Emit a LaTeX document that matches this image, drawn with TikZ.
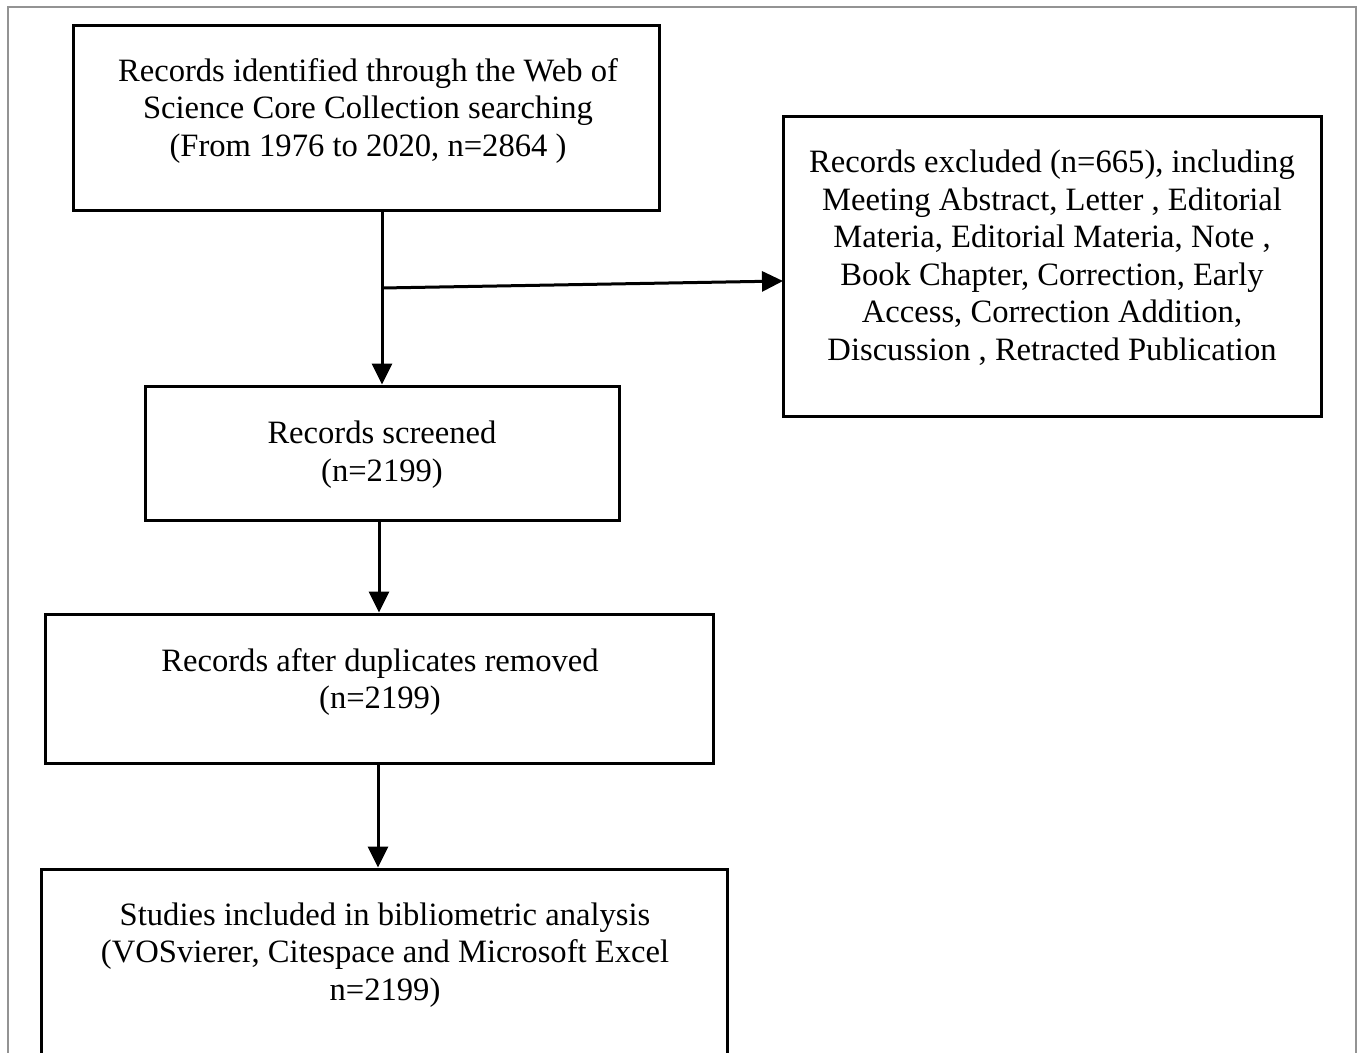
\documentclass[tikz,border=0pt]{standalone}
\usepackage{fontspec}
\setmainfont{Liberation Serif}
\usetikzlibrary{arrows.meta}
\begin{document}
\begin{tikzpicture}[x=1pt,y=-1pt,
  box/.style={draw=black,line width=3pt,rectangle,inner sep=0pt},
  txt/.style={align=center,inner sep=0pt,font=\fontsize{32.6}{37.5}\selectfont},
  arr/.style={line width=3pt,-{Triangle[length=21pt,width=20pt]}}]
\clip (0,0) rectangle (1357,1052);
\fill[white] (0,0) rectangle (1357,1052);
\draw[gray!85,line width=2pt] (8,1060) -- (8,7) -- (1356,7) -- (1356,1060);
% boxes
\node[box,minimum width=586pt,minimum height=185pt] (b1) at (366,117.5) {};
\node[box,minimum width=538pt,minimum height=300pt] (b2) at (1052,266) {};
\node[box,minimum width=474pt,minimum height=134pt] (b3) at (382,453) {};
\node[box,minimum width=668pt,minimum height=149pt] (b4) at (379,688.5) {};
\node[box,minimum width=686pt,minimum height=300pt] (b5) at (384,1019) {};
% texts
\node[txt] (t1) at (368,110.5) {Records identified through the Web of\\Science Core Collection searching\\(From 1976 to 2020, n=2864 )};
\node[txt] (t2) at (1052,257.5) {Records excluded (n=665), including\\Meeting Abstract, Letter , Editorial\\Materia, Editorial Materia, Note ,\\Book Chapter, Correction, Early\\Access, Correction Addition,\\Discussion , Retracted Publication};
\node[txt] (t3) at (382,454.5) {Records screened\\(n=2199)};
\node[txt] (t4) at (380,682) {Records after duplicates removed\\(n=2199)};
\node[txt] (t5) at (385,955) {Studies included in bibliometric analysis\\(VOSvierer, Citespace and Microsoft Excel\\n=2199)};
% connectors
\coordinate (br) at (382,288);
\coordinate (e2) at (783,281);
\draw[arr] (b1.south -| br) -- (b3.north -| br);
\draw[arr] (br) -- (e2);
\draw[arr] (b3.south -| 379,0) -- (b4.north -| 379,0);
\draw[arr] (b4.south -| 378,0) -- (b5.north -| 378,0);
\end{tikzpicture}
\end{document}
